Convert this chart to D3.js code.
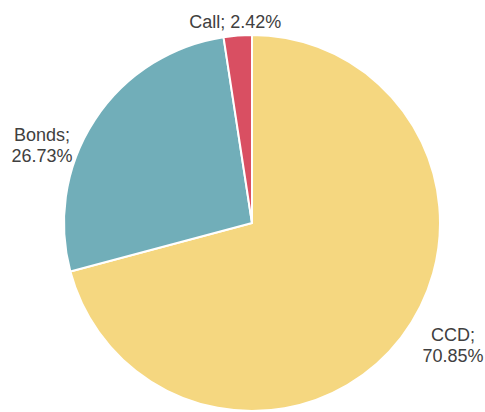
<!DOCTYPE html>
<html>
<head>
<meta charset="utf-8">
<script src="https://cdn.jsdelivr.net/npm/d3@7"></script>
<style>
  body { margin: 0; background: #fff; }
  svg { display: block; }
</style>
</head>
<body>
<div id="chart"></div>
<script>
const categories = ["CCD", "Bonds", "Call"];
const values = [70.85, 26.73, 2.42];
const colors = ["#F5D780", "#71AEB9", "#D94F62"];

const width = 485, height = 412;
const cx = 252, cy = 223, radius = 188;

// nudges from the arc centroid, like the hand-placed labels of the original
const labelNudge = { CCD: [37, -8], Bonds: [-37, 31], Call: [-1, 11] };

const svg = d3.select("#chart").append("svg")
    .attr("width", width)
    .attr("height", height);

const g = svg.append("g").attr("transform", `translate(${cx},${cy})`);

const data = categories.map((c, i) => ({ name: c, value: values[i], color: colors[i] }));

const pie = d3.pie().sort(null).value(d => d.value);
const arcs = pie(data);

const arc = d3.arc().innerRadius(0).outerRadius(radius);
const labelArc = d3.arc().innerRadius(radius * 1.1).outerRadius(radius * 1.1);

g.selectAll("path.slice")
    .data(arcs)
    .enter().append("path")
    .attr("class", "slice")
    .attr("d", arc)
    .attr("fill", d => d.data.color)
    .attr("stroke", "#fff")
    .attr("stroke-width", 2)
    .attr("stroke-linejoin", "round");

const lineH = 21.5;
arcs.forEach(d => {
    const [x0, y0] = labelArc.centroid(d);
    const [nx, ny] = labelNudge[d.data.name];
    const x = x0 + nx, y = y0 + ny;
    const pct = d.data.value.toFixed(2) + "%";
    const t = g.append("text")
        .attr("font-family", "'Liberation Sans', Arial, sans-serif")
        .attr("font-size", 18)
        .attr("text-anchor", "middle")
        .attr("fill", "#404040");
    if (d.data.name === "Call") {
        t.attr("x", x).attr("y", y).text(`${d.data.name}; ${pct}`);
    } else {
        t.append("tspan").attr("x", x).attr("y", y).text(`${d.data.name};`);
        t.append("tspan").attr("x", x).attr("y", y + lineH).text(pct);
    }
});
</script>
</body>
</html>
